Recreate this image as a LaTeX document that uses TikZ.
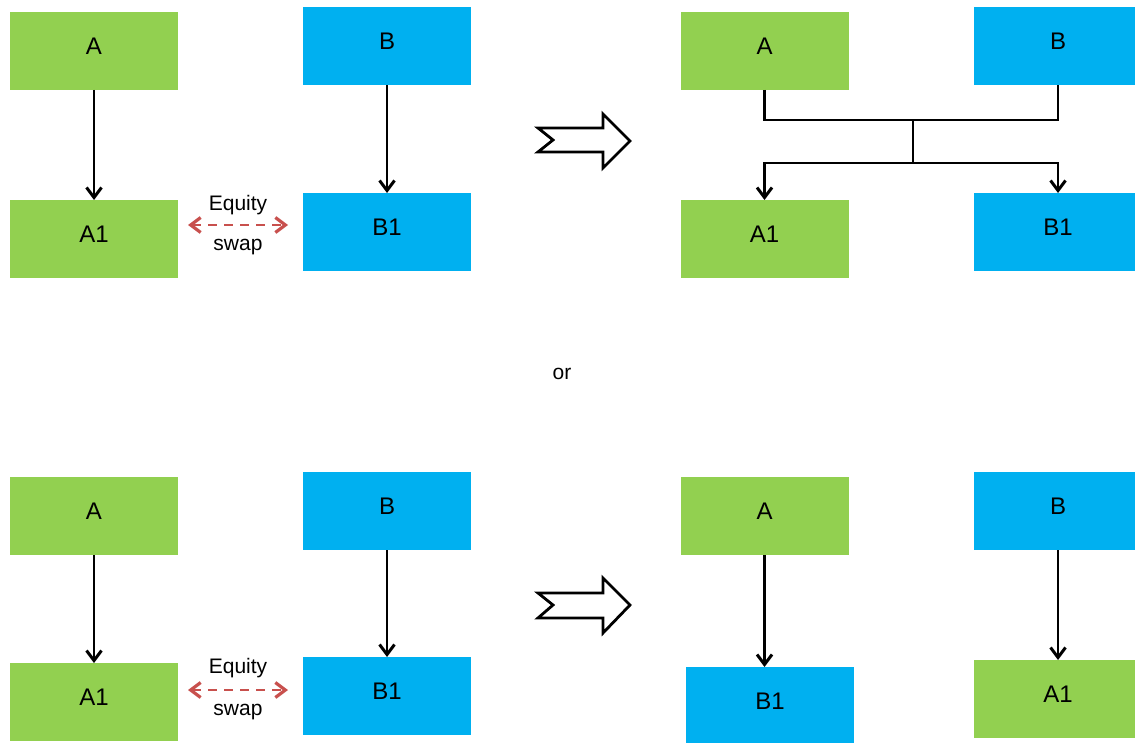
\documentclass[tikz,border=0pt]{standalone}
\usepackage{fontspec}
\setmainfont{Liberation Sans}
\usetikzlibrary{arrows.meta}
\definecolor{boxgreen}{RGB}{146,208,80}
\definecolor{boxblue}{RGB}{0,176,240}
\definecolor{swapred}{RGB}{200,80,77}
\tikzset{
  box/.style={minimum width=168pt, minimum height=78pt, inner sep=0pt, outer sep=0pt,
    font=\fontsize{24}{28}\selectfont, text height=17pt, text depth=10pt},
  gbox/.style={box, fill=boxgreen},
  bbox/.style={box, fill=boxblue},
  wire/.style={line width=2.4pt, black},
  link/.style={wire, -{Straight Barb[length=10pt,width=15pt,line width=3pt]}},
  swaparrow/.style={swapred, line width=2.8pt, dash pattern=on 9pt off 7pt,
    {Straight Barb[length=10pt,width=15pt,line width=3.2pt]}-{Straight Barb[length=10pt,width=15pt,line width=3.2pt]}},
  lbl/.style={font=\fontsize{21}{24}\selectfont, inner sep=0pt},
  hollow/.style={draw=black, line width=2.8pt, fill=white, line join=miter},
}
\begin{document}
\begin{tikzpicture}[x=1pt, y=-1pt]
\useasboundingbox (0,0) rectangle (1135,743);

% ---------- upper row: before ----------
\node[gbox] (tA)  at (94,51)  {A};
\node[gbox] (tA1) at (94,239) {A1};
\node[bbox] (tB)  at (387,46) {B};
\node[bbox] (tB1) at (387,232) {B1};
\draw[link] (tA) -- (tA1);
\draw[link] (tB) -- (tB1);
\node[lbl] (teq) at (238,205) {Equity};
\node[lbl] (tsw) at (238,247) {swap};
\coordinate (tsa) at (238,225);
\draw[swaparrow, shorten <=10pt, shorten >=15pt] (tA1.east |- tsa) -- (tB1.west |- tsa);

% transition arrow
\draw[hollow] (538,128) -- (603,128) -- (603,114) -- (630,141) -- (603,168)
  -- (603,152) -- (538,152) -- (553,140) -- cycle;

% ---------- upper row: after ----------
\node[gbox] (rA)  at (764.5,51)  {A};
\node[bbox] (rB)  at (1058,46)   {B};
\node[gbox] (rA1) at (764.5,239) {A1};
\node[bbox] (rB1) at (1058,232)  {B1};
\coordinate (j1) at (913,120);
\coordinate (j2) at (913,163);
\draw[wire] (rA.south) -- (rA.south |- j1) -- (rB.south |- j1) -- (rB.south);
\draw[wire] (j1) -- (j2);
\draw[link] (j2) -| (rA1.north);
\draw[link] (j2) -| (rB1.north);

\node[lbl] (or) at (562,374) {or};

% ---------- lower row: before ----------
\node[gbox] (bA)  at (94,516)  {A};
\node[gbox] (bA1) at (94,702)  {A1};
\node[bbox] (bB)  at (387,511) {B};
\node[bbox] (bB1) at (387,696) {B1};
\draw[link] (bA) -- (bA1);
\draw[link] (bB) -- (bB1);
\node[lbl] (beq) at (238,668) {Equity};
\node[lbl] (bsw) at (238,712) {swap};
\coordinate (bsa) at (238,690);
\draw[swaparrow, shorten <=10pt, shorten >=15pt] (bA1.east |- bsa) -- (bB1.west |- bsa);

% transition arrow
\draw[hollow] (538,593) -- (603,593) -- (603,578) -- (630,605) -- (603,633)
  -- (603,618) -- (538,618) -- (553,605) -- cycle;

% ---------- lower row: after ----------
\node[gbox] (sA)  at (764.5,516) {A};
\node[bbox] (sB1) at (770,706)   {B1};
\node[bbox] (sB)  at (1058,511)  {B};
\node[gbox] (sA1) at (1058,699)  {A1};
\draw[link] (sA.south) -- (sA.south |- sB1.north);
\draw[link] (sB) -- (sA1);
\end{tikzpicture}
\end{document}
